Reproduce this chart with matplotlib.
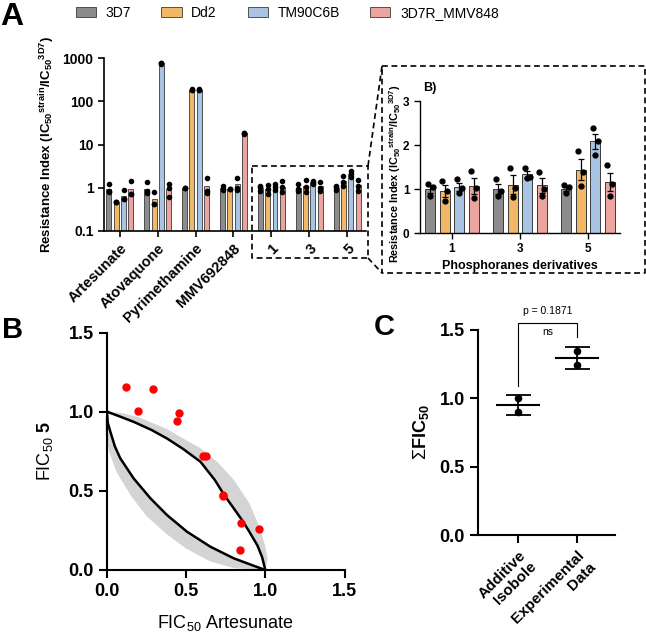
import matplotlib
matplotlib.use("Agg")
import matplotlib.pyplot as plt
from matplotlib.lines import Line2D
from matplotlib.patches import Patch
from matplotlib.ticker import FixedLocator, NullLocator
import numpy as np

plt.rcParams['font.family'] = ['Liberation Sans', 'DejaVu Sans']
plt.rcParams['mathtext.fontset'] = 'custom'
plt.rcParams['mathtext.rm'] = 'Liberation Sans'
plt.rcParams['mathtext.bf'] = 'Liberation Sans:bold'
plt.rcParams['mathtext.it'] = 'Liberation Sans:italic'

# ---- Panel A data: resistance index per strain ----
groups = ["Artesunate", "Atovaquone", "Pyrimethamine", "MMV692848", "1", "3", "5"]
strains = ["3D7", "Dd2", "TM90C6B", "3D7R_MMV848"]
colors = ["#8c8c8c", "#f3b867", "#a9c3e3", "#eda49f"]

ri_3d7 = [0.95, 0.95, 1.0, 0.98, 1.0, 1.0, 1.0]
ri_dd2 = [0.47, 0.54, 185, 0.93, 0.95, 1.1, 1.44]
ri_tm90 = [0.66, 750, 185, 1.19, 1.05, 1.33, 2.08]
ri_3d7r = [0.95, 0.95, 1.08, 18, 1.06, 1.08, 1.16]

pts_3d7 = [[1.24, 0.85, 0.8], [1.37, 0.85, 0.75], [1.0, 1.0, 1.0], [1.1, 0.95, 0.9],
           [1.12, 1.05, 0.83], [1.22, 0.95, 0.83], [1.08, 1.04, 0.9]]
pts_dd2 = [[0.48, 0.47, 0.46], [0.79, 0.42, 0.41], [188, 185, 182], [0.95, 0.93, 0.92],
           [1.18, 0.95, 0.73], [1.48, 1.02, 0.81], [1.87, 1.39, 1.07]]
pts_tm90 = [[0.87, 0.55, 0.55], [760, 750, 740], [188, 185, 182], [1.7, 1.0, 0.9],
            [1.22, 1.02, 0.9], [1.47, 1.28, 1.24], [2.38, 2.08, 1.77]]
pts_3d7r = [[1.42, 0.72, 0.72], [1.25, 1.0, 0.6], [1.7, 0.85, 0.75], [18.5, 18, 17.5],
            [1.41, 1.02, 0.79], [1.39, 1.0, 0.84], [1.55, 1.11, 0.83]]

# inset (phosphoranes derivatives 1, 3, 5) error bars
err_3d7 = [0.09, 0.11, 0.04]
err_dd2 = [0.13, 0.21, 0.24]
err_tm90 = [0.09, 0.08, 0.18]
err_3d7r = [0.18, 0.16, 0.21]

# ---- Panel B data: isobologram ----
upper_x = [0, 0.08, 0.17, 0.28, 0.38, 0.48, 0.59, 0.68, 0.74, 0.80, 0.86, 0.90, 0.95, 0.98, 1.0]
upper_y = [1.0, 0.97, 0.935, 0.885, 0.83, 0.765, 0.684, 0.57, 0.474, 0.39, 0.305, 0.24, 0.155, 0.08, 0.0]
lower_x = [0, 0.005, 0.021, 0.05, 0.084, 0.168, 0.274, 0.379, 0.505, 0.653, 0.8, 0.926, 1.0]
lower_y = [1.0, 0.93, 0.874, 0.78, 0.705, 0.579, 0.453, 0.347, 0.242, 0.147, 0.074, 0.027, 0.0]
band_hi_x = [0, 0.1, 0.2, 0.379, 0.5, 0.589, 0.7, 0.8, 0.9, 0.96, 1.0, 1.015, 1.0]
band_hi_y = [1.0, 0.99, 0.965, 0.89, 0.82, 0.77, 0.68, 0.57, 0.42, 0.28, 0.15, 0.07, 0.0]
band_lo_x = [0, -0.012, -0.008, 0.015, 0.06, 0.15, 0.25, 0.379, 0.5, 0.65, 0.8, 1.0]
band_lo_y = [1.0, 0.95, 0.85, 0.74, 0.62, 0.47, 0.34, 0.225, 0.135, 0.055, 0.012, 0.0]
fic_x = [0.122, 0.288, 0.196, 0.457, 0.444, 0.606, 0.623, 0.731, 0.735, 0.848, 0.96, 0.84]
fic_y = [1.158, 1.145, 1.004, 0.989, 0.941, 0.722, 0.722, 0.474, 0.467, 0.295, 0.259, 0.126]

# ---- Panel C data: sum FIC50 ----
c_labels = ["Additive\nIsobole", "Experimental\nData"]
c_points = [[1.0, 0.898], [1.348, 1.241]]
c_mean = [0.951, 1.295]
c_err = [0.07, 0.078]
p_text = "p = 0.1871"

W, H = 646, 640
fig = plt.figure(figsize=(W / 100, H / 100), dpi=100)


def px_axes(l, t, r, b):
    return fig.add_axes([l / W, 1 - b / H, (r - l) / W, (b - t) / H])


def px_line(xs, ys, **kw):
    fig.add_artist(Line2D([x / W for x in xs], [1 - y / H for y in ys],
                          transform=fig.transFigure, **kw))


def style_axes(ax, lw, length=4):
    for s in ['top', 'right']:
        ax.spines[s].set_visible(False)
    for s in ['left', 'bottom']:
        ax.spines[s].set_linewidth(lw)
    ax.tick_params(direction='out', width=lw, length=length)


all_ri = [ri_3d7, ri_dd2, ri_tm90, ri_3d7r]
all_pts = [pts_3d7, pts_dd2, pts_tm90, pts_3d7r]
all_err = [err_3d7, err_dd2, err_tm90, err_3d7r]
ylab = r"Resistance Index (IC$_{\mathbf{50}}$$^{\mathbf{strain}}$/IC$_{\mathbf{50}}$$^{\mathbf{3D7}}$)"

# ---- Panel A main ----
ax = px_axes(104, 58, 366, 231)
x = np.arange(len(groups))
offs = [-0.29, -0.097, 0.097, 0.29]
for i in range(4):
    ax.bar(x + offs[i], all_ri[i], width=0.13, color=colors[i], edgecolor='#3a3a3a',
           linewidth=0.6, zorder=2)
    for g in range(len(groups)):
        ax.plot([x[g] + offs[i]] * 3, all_pts[i][g], 'o', color='black', ms=3, zorder=3)
ax.set_yscale('log')
ax.set_ylim(0.1, 1000)
ax.set_xlim(-0.42, 6.5)
ax.yaxis.set_major_locator(FixedLocator([0.1, 1, 10, 100, 1000]))
ax.yaxis.set_minor_locator(NullLocator())
ax.set_yticklabels(["0.1", "1", "10", "100", "1000"], fontweight='bold', fontsize=10)
ax.set_xticks(x)
ax.set_xticklabels(groups, rotation=45, ha='right', rotation_mode='anchor',
                   fontweight='bold', fontsize=10.5)
style_axes(ax, 1.2)
ax.set_ylabel(ylab, fontweight='bold', fontsize=9.5, labelpad=4)

# legend
handles = [Patch(facecolor=c, edgecolor='#3a3a3a', linewidth=0.6) for c in colors]
fig.legend(handles, strains, loc='center left', bbox_to_anchor=(70 / W, 1 - 13 / H),
           ncol=4, frameon=False, fontsize=10, handlelength=1.45, handleheight=0.8,
           handletextpad=0.7, columnspacing=2.2, borderaxespad=0)

# ---- Panel A inset ----
axi = px_axes(420, 101, 620, 233)
xi = np.arange(3)
offs_i = [-0.32, -0.107, 0.107, 0.32]
jit = [-0.035, 0.035, 0.0]
for i in range(4):
    axi.bar(xi + offs_i[i], all_ri[i][4:], width=0.15, color=colors[i], edgecolor='#3a3a3a',
            linewidth=0.7, zorder=2)
    axi.errorbar(xi + offs_i[i], all_ri[i][4:], yerr=all_err[i], fmt='none', ecolor='black',
                 elinewidth=0.9, capsize=2.5, capthick=0.9, zorder=3)
    for g in range(3):
        axi.plot([xi[g] + offs_i[i] + j for j in jit], all_pts[i][4 + g], 'o', color='black',
                 ms=3.5, zorder=4)
axi.set_ylim(0, 3)
axi.set_xlim(-0.47, 2.47)
axi.set_yticks([0, 1, 2, 3])
axi.set_yticklabels(["0", "1", "2", "3"], fontweight='bold', fontsize=8.5)
axi.set_xticks(xi)
axi.set_xticklabels(groups[4:], fontweight='bold', fontsize=8.5)
style_axes(axi, 1.0)
axi.set_xlabel("Phosphoranes derivatives", fontweight='bold', fontsize=9, labelpad=3)
axi.set_ylabel(ylab, fontweight='bold', fontsize=7.8)
axi.yaxis.set_label_coords(-0.085, 0.45)
fig.text(423 / W, 1 - 88 / H, "B)", fontweight='bold', fontsize=9, va='center')

# dashed zoom boxes
dash = dict(color='black', linewidth=1.2, linestyle=(0, (3.5, 2.2)))
px_line([252, 368, 368, 252, 252], [166, 166, 258, 258, 166], **dash)
px_line([382, 645, 645, 382, 382], [66, 66, 273, 273, 66], **dash)
px_line([368, 382], [166, 66], **dash)
px_line([368, 382], [258, 273], **dash)

# ---- Panel B ----
axb = px_axes(107, 332.5, 344.5, 570)
axb.fill(band_hi_x + upper_x[::-1], band_hi_y + upper_y[::-1], color='#d4d4d4',
         linewidth=0, zorder=1, clip_on=False)
axb.fill(lower_x + band_lo_x[::-1], lower_y + band_lo_y[::-1], color='#d4d4d4',
         linewidth=0, zorder=1, clip_on=False)
axb.plot(upper_x, upper_y, color='black', lw=1.8, zorder=2)
axb.plot(lower_x, lower_y, color='black', lw=1.8, zorder=2)
axb.plot(fic_x, fic_y, 'o', color='#ff0000', ms=5, zorder=3)
axb.set_xlim(0, 1.5)
axb.set_ylim(0, 1.5)
axb.set_xticks([0, 0.5, 1.0, 1.5])
axb.set_yticks([0, 0.5, 1.0, 1.5])
axb.set_xticklabels(["0.0", "0.5", "1.0", "1.5"], fontweight='bold', fontsize=13)
axb.set_yticklabels(["0.0", "0.5", "1.0", "1.5"], fontweight='bold', fontsize=13)
style_axes(axb, 1.5, 6)
axb.set_xlabel(r"FIC$_{50}$ Artesunate", fontsize=13, labelpad=9)
axb.set_ylabel(r"FIC$_{50}$ $\mathbf{5}$", fontsize=13, labelpad=10)

# ---- Panel C ----
axc = px_axes(478, 330, 615, 535)
xc = np.arange(2)
for g in range(2):
    axc.plot([xc[g], xc[g]], c_points[g], 'o', color='black', ms=4.5, zorder=3)
    axc.plot([xc[g] - 0.36, xc[g] + 0.36], [c_mean[g]] * 2, color='black', lw=1.5, zorder=2)
axc.errorbar(xc, c_mean, yerr=c_err, fmt='none', ecolor='black', elinewidth=1.3,
             capsize=9, capthick=1.3, zorder=2)
axc.plot([0, 0, 1, 1], [1.09, 1.55, 1.55, 1.45], color='black', lw=0.8, clip_on=False)
axc.text(0.5, 1.6, p_text, ha='center', va='bottom', fontsize=7.5)
axc.text(0.5, 1.52, "ns", ha='center', va='top', fontsize=7.5)
axc.set_xlim(-0.68, 1.64)
axc.set_ylim(0, 1.5)
axc.set_yticks([0, 0.5, 1.0, 1.5])
axc.set_yticklabels(["0.0", "0.5", "1.0", "1.5"], fontweight='bold', fontsize=13)
axc.set_xticks(xc)
axc.set_xticklabels(c_labels, rotation=45, ha='right', rotation_mode='anchor',
                    multialignment='right', fontweight='bold', fontsize=11)
style_axes(axc, 1.5, 6)
axc.set_ylabel(r"$\Sigma$FIC$_{\mathbf{50}}$", fontweight='bold', fontsize=13, labelpad=6)

# panel letters
fig.text(0 / W, 1 - 2 / H, "A", fontweight='bold', fontsize=23, va='top')
fig.text(2 / W, 1 - 316 / H, "B", fontweight='bold', fontsize=21, va='top')
fig.text(374 / W, 1 - 313 / H, "C", fontweight='bold', fontsize=21, va='top')

fig.savefig("out.png", dpi=100)
